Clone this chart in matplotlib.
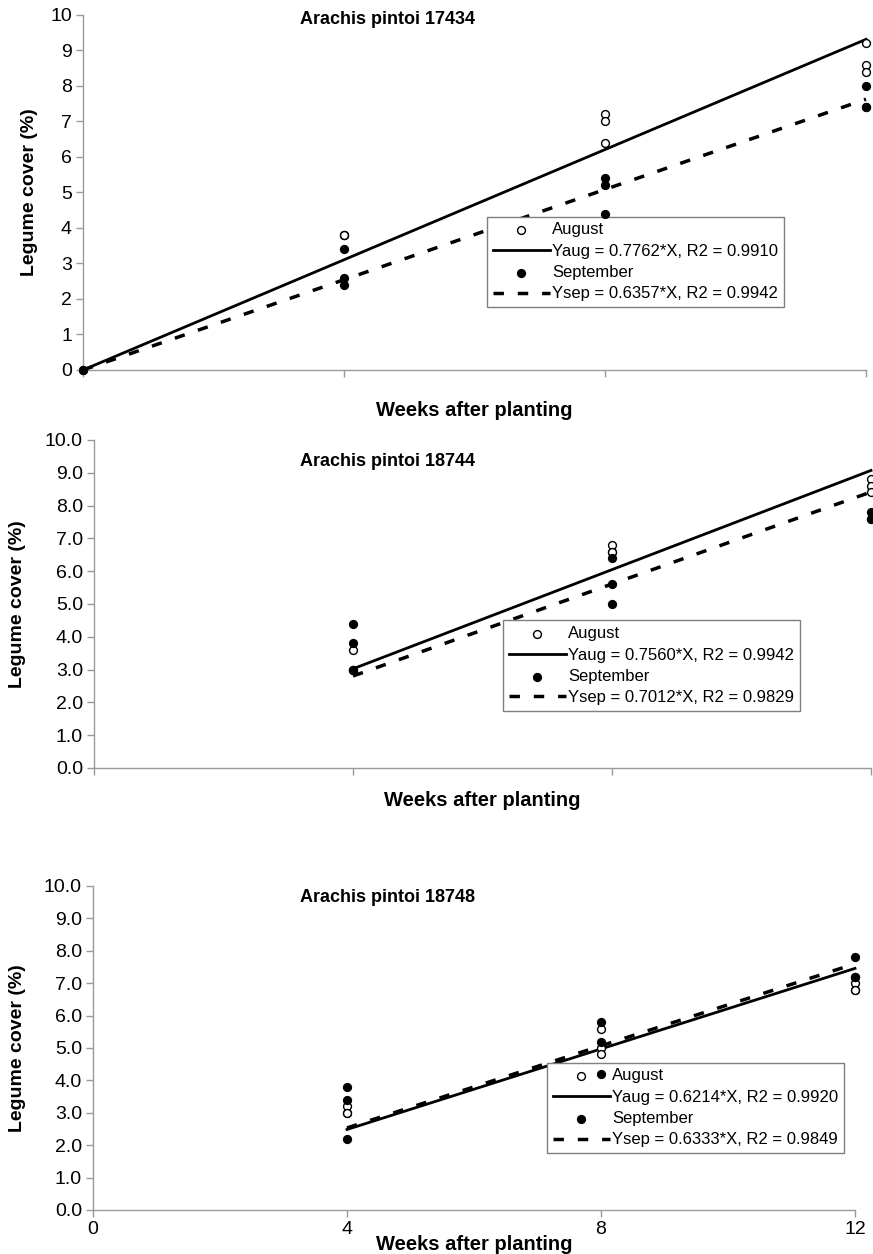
import matplotlib
matplotlib.use("Agg")
import matplotlib.pyplot as plt
import numpy as np

plt.rcParams['font.family'] = ['Liberation Sans', 'DejaVu Sans']

W, H = 873, 1254

# --- data ---
titles = ['Arachis pintoi 17434', 'Arachis pintoi 18744', 'Arachis pintoi 18748']

aug_x = [[0, 4, 4, 4, 8, 8, 8, 12, 12, 12],
         [4, 4, 4, 8, 8, 8, 12, 12, 12],
         [4, 4, 4, 8, 8, 8, 12, 12, 12]]
aug_y = [[0, 3.8, 3.8, 3.8, 7.2, 7.0, 6.4, 9.2, 8.6, 8.4],
         [3.6, 3.0, 3.0, 6.8, 6.6, 6.6, 8.8, 8.6, 8.4],
         [3.2, 3.0, 3.0, 5.6, 5.0, 4.8, 7.0, 6.8, 6.8]]
sep_x = [[0, 4, 4, 4, 8, 8, 8, 12, 12, 12],
         [4, 4, 4, 8, 8, 8, 12, 12, 12],
         [4, 4, 4, 8, 8, 8, 12, 12, 12]]
sep_y = [[0, 3.4, 2.6, 2.4, 5.4, 5.2, 4.4, 8.0, 7.4, 7.4],
         [4.4, 3.8, 3.0, 6.4, 5.6, 5.0, 7.8, 7.6, 7.6],
         [3.8, 3.4, 2.2, 5.8, 5.2, 4.2, 7.8, 7.2, 7.2]]

slope_aug = [0.7762, 0.7560, 0.6214]
r2_aug = [0.9910, 0.9942, 0.9920]
slope_sep = [0.6357, 0.7012, 0.6333]
r2_sep = [0.9942, 0.9829, 0.9849]
line_start = [0, 4, 4]

yticks = np.arange(0, 11, 1)
xticks = [0, 4, 8, 12]

# axes boxes in pixels: left, right, top, bottom
boxes = [(83, 866, 15, 370), (94, 871, 440, 768), (93, 855, 886, 1210)]
legend_pos = [(487, 4.32), (503, 4.5), (547, 4.55)]  # left px, top in data units
title_pos = [(388, 20), (388, 462), (388, 898)]
xlabel_y = [410, 800, 1245]
ylabel_x = [30, 18, 18]

fig = plt.figure(figsize=(W / 100, H / 100), dpi=100)

for i in range(3):
    l, r, t, b = boxes[i]
    ax = fig.add_axes([l / W, 1 - b / H, (r - l) / W, (b - t) / H])
    ax.set_xlim(0, 12)
    ax.set_ylim(0, 10)
    for s in ['top', 'right']:
        ax.spines[s].set_visible(False)
    for s in ['left', 'bottom']:
        ax.spines[s].set_color('#9a9a9a')
        ax.spines[s].set_linewidth(1)
    ax.tick_params(colors='#9a9a9a', length=5, width=1, labelcolor='black',
                   labelsize=14, pad=3)
    ax.set_yticks(yticks)
    if i == 0:
        ax.set_yticklabels([str(v) for v in yticks])
    else:
        ax.set_yticklabels(['%.1f' % v for v in yticks])
    ax.set_xticks(xticks)
    if i == 2:
        ax.set_xticklabels([str(v) for v in xticks])
    else:
        ax.set_xticklabels([])

    xs = np.array([line_start[i], 12])
    ax.plot(xs, slope_aug[i] * xs, color='black', lw=2, clip_on=False,
            label='Yaug = %.4f*X, R2 = %.4f' % (slope_aug[i], r2_aug[i]))
    ax.plot(xs, slope_sep[i] * xs, color='black', lw=2.5, ls=(0, (3, 4)),
            clip_on=False,
            label='Ysep = %.4f*X, R2 = %.4f' % (slope_sep[i], r2_sep[i]))
    ax.scatter(aug_x[i], aug_y[i], s=32, facecolor='white', edgecolor='black',
               linewidth=1, zorder=6, clip_on=False, label='August')
    ax.scatter(sep_x[i], sep_y[i], s=32, color='black', zorder=6,
               clip_on=False, label='September')

    h, lab = ax.get_legend_handles_labels()
    order = [2, 0, 3, 1]
    lx, ly = legend_pos[i]
    anchor_x = (lx - l) / (r - l)
    anchor_y = ly / 10
    leg = ax.legend([h[k] for k in order], [lab[k] for k in order],
                    loc='upper left', bbox_to_anchor=(anchor_x, anchor_y),
                    fontsize=12, frameon=True, fancybox=False,
                    framealpha=1, handlelength=3.4, handletextpad=0.15,
                    labelspacing=0.38, borderpad=0.35, borderaxespad=0)
    leg.get_frame().set_edgecolor('#7f7f7f')
    leg.get_frame().set_linewidth(1)
    leg.set_zorder(5)

    tx, ty = title_pos[i]
    fig.text(tx / W, 1 - ty / H, titles[i], fontsize=13, fontweight='bold',
             ha='center', va='center')
    fig.text(ylabel_x[i] / W, 1 - ((t + b) / 2) / H, 'Legume cover (%)',
             fontsize=14, fontweight='bold', rotation=90,
             ha='center', va='center')
    fig.text(((l + r) / 2) / W, 1 - xlabel_y[i] / H, 'Weeks after planting',
             fontsize=14.5, fontweight='bold', ha='center', va='center')

fig.savefig('out.png', dpi=100)
